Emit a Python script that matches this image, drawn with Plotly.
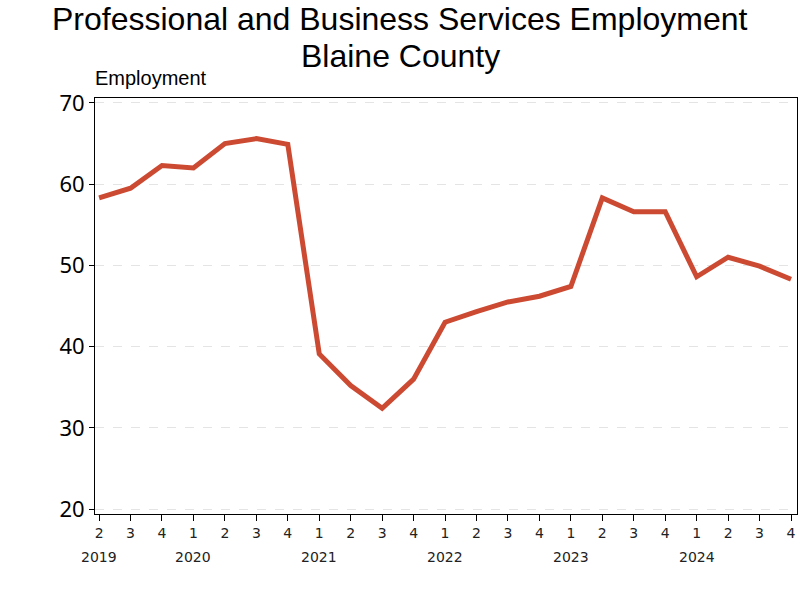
import plotly.graph_objects as go

years = [2019, 2019, 2019,
         2020, 2020, 2020, 2020,
         2021, 2021, 2021, 2021,
         2022, 2022, 2022, 2022,
         2023, 2023, 2023, 2023,
         2024, 2024, 2024, 2024]
quarters = [2, 3, 4,
            1, 2, 3, 4,
            1, 2, 3, 4,
            1, 2, 3, 4,
            1, 2, 3, 4,
            1, 2, 3, 4]
employment = [58.3, 59.5, 62.3,
              62.0, 65.0, 65.6, 64.9,
              39.1, 35.2, 32.4, 36.0,
              43.0, 44.3, 45.5, 46.2,
              47.4, 58.3, 56.6, 56.6,
              48.6, 51.0, 49.9, 48.3]
y_ticks = [20, 30, 40, 50, 60, 70]
title_lines = ["Professional and Business Services Employment", "Blaine County"]

x = list(range(len(employment)))

L, R, T, B = 95, 3, 98, 86
pw, ph = 800 - L - R, 600 - T - B


def px_x(v):
    return (v - L) / pw


def px_y(v):
    return (600 - B - v) / ph


fig = go.Figure()
fig.add_trace(go.Scatter(
    x=x, y=employment, mode="lines",
    line=dict(color="#CC4A32", width=5),
    hoverinfo="skip", showlegend=False,
))

annotations = []
seen = set()
for i, yr in enumerate(years):
    if yr not in seen:
        seen.add(yr)
        annotations.append(dict(
            x=i, y=px_y(557), xref="x", yref="paper", text=str(yr),
            showarrow=False, xanchor="center", yanchor="middle",
            font=dict(family="DejaVu Sans", size=14, color="#222222"),
        ))
annotations.append(dict(
    x=px_x(93), y=px_y(78), xref="paper", yref="paper", text="Employment",
    showarrow=False, xanchor="left", yanchor="middle",
    font=dict(family="Liberation Sans", size=20, color="black"),
))
for k, line in enumerate(title_lines):
    annotations.append(dict(
        x=px_x(400), y=px_y(19 + 37 * k), xref="paper", yref="paper", text=line,
        showarrow=False, xanchor="center", yanchor="middle",
        font=dict(family="Liberation Sans", size=32, color="black"),
    ))

fig.update_layout(
    width=800, height=600,
    margin=dict(l=L, r=R, t=T, b=B),
    paper_bgcolor="white", plot_bgcolor="white",
    annotations=annotations,
    xaxis=dict(
        range=[-0.13, 22.19],
        tickmode="array", tickvals=x, ticktext=[str(q) for q in quarters],
        showgrid=False, zeroline=False,
        showline=True, linecolor="black", linewidth=1, mirror=True,
        ticks="outside", ticklen=6, tickcolor="black",
        tickfont=dict(family="DejaVu Sans", size=14, color="#222222"),
    ),
    yaxis=dict(
        range=[19.4, 70.6],
        tickmode="array", tickvals=y_ticks,
        showgrid=True, gridcolor="#E4E4E4", griddash="dash", gridwidth=1,
        zeroline=False,
        showline=True, linecolor="black", linewidth=1, mirror=True,
        ticks="outside", ticklen=5, tickcolor="black",
        tickfont=dict(family="Noto Sans", size=22, color="black"),
    ),
)

fig.write_html("out.html", config={"displayModeBar": False},
               post_script="document.body.style.margin='0';")
